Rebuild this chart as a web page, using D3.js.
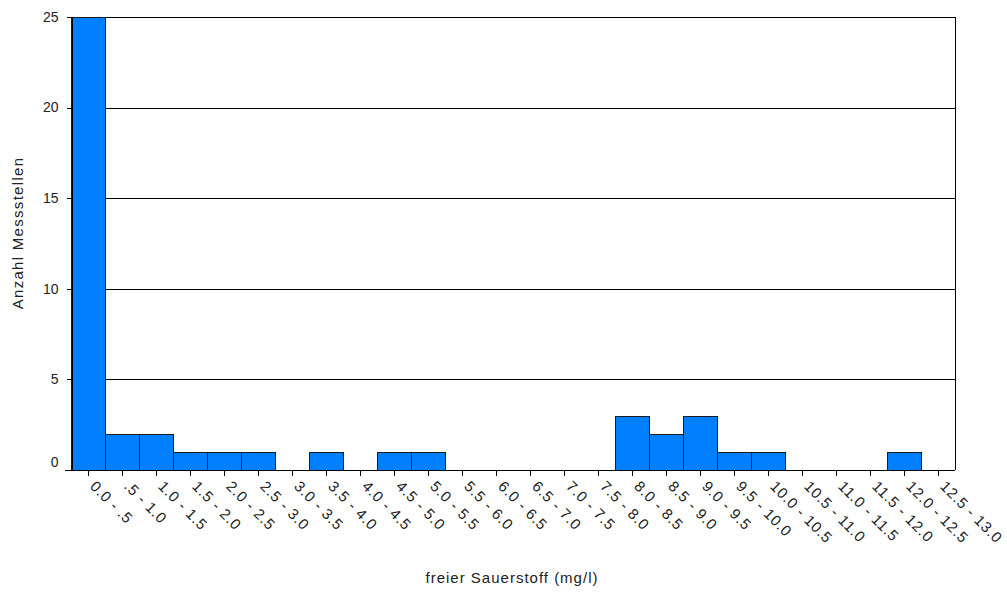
<!DOCTYPE html>
<meta charset="utf-8">
<style>
body { margin: 0; background: #fff; }
text { font-family: "Liberation Sans", Arial, sans-serif; fill: #222; }
.grid line { stroke: #000; stroke-width: 1px; shape-rendering: crispEdges; }
.axis path, .axis line { stroke: #000; shape-rendering: crispEdges; }
.bar { fill: #0080ff; stroke: #1a1a1a; stroke-width: 1px; shape-rendering: crispEdges; }
</style>
<svg class="chart" width="1007" height="595"></svg>
<script src="https://cdn.jsdelivr.net/npm/d3@7"></script>
<script>
var categories = ["0.0 - .5", ".5 - 1.0", "1.0 - 1.5", "1.5 - 2.0", "2.0 - 2.5", "2.5 - 3.0",
  "3.0 - 3.5", "3.5 - 4.0", "4.0 - 4.5", "4.5 - 5.0", "5.0 - 5.5", "5.5 - 6.0", "6.0 - 6.5",
  "6.5 - 7.0", "7.0 - 7.5", "7.5 - 8.0", "8.0 - 8.5", "8.5 - 9.0", "9.0 - 9.5", "9.5 - 10.0",
  "10.0 - 10.5", "10.5 - 11.0", "11.0 - 11.5", "11.5 - 12.0", "12.0 - 12.5", "12.5 - 13.0"];
var counts = [25, 2, 2, 1, 1, 1, 0, 1, 0, 1, 1, 0, 0, 0, 0, 0, 3, 2, 3, 1, 1, 0, 0, 0, 1, 0];
var yTicks = [0, 5, 10, 15, 20, 25];

var svg = d3.select(".chart"),
    margin = {top: 17, right: 52, bottom: 125, left: 71},
    width = 1007 - margin.left - margin.right,
    height = 595 - margin.top - margin.bottom;

var x = d3.scaleBand().domain(categories).range([0, width]).padding(0);
var y = d3.scaleLinear().domain([0, 25]).range([height, 0]);

var g = svg.append("g")
    .attr("transform", "translate(" + margin.left + "," + margin.top + ")");

// gridlines
g.append("g")
    .attr("class", "grid")
  .selectAll("line")
  .data(yTicks.filter(function(d) { return d > 0; }))
  .enter().append("line")
    .attr("x1", 0)
    .attr("x2", width)
    .attr("y1", function(d) { return Math.round(y(d)) + 0.5; })
    .attr("y2", function(d) { return Math.round(y(d)) + 0.5; });

// right border
g.append("line")
    .attr("x1", width + 0.5).attr("x2", width + 0.5)
    .attr("y1", 0).attr("y2", height)
    .style("stroke", "#000");

var barData = categories.map(function(c, i) { return {cat: c, val: counts[i]}; })
    .filter(function(d) { return d.val > 0; });

g.selectAll(".bar")
    .data(barData)
  .enter().append("rect")
    .attr("class", "bar")
    .attr("x", function(d) { return Math.round(x(d.cat)) + 0.5; })
    .attr("width", x.bandwidth())
    .attr("y", function(d) { return Math.round(y(d.val)) + 0.5; })
    .attr("height", function(d) { return Math.round(height - y(d.val)); });

// y axis
var yAxis = g.append("g")
    .attr("class", "axis")
    .attr("transform", "translate(0.5,0)")
    .call(d3.axisLeft(y).tickValues(yTicks).tickSize(5).tickSizeOuter(0).tickPadding(8));
yAxis.selectAll("text")
    .style("font-size", "14px")
    .attr("dy", function(d) { return d === 0 ? "-0.25em" : "0.3em"; });

// x axis
var xAxis = g.append("g")
    .attr("class", "axis")
    .attr("transform", "translate(0," + (height + 0.5) + ")")
    .call(d3.axisBottom(x).tickSize(5).tickSizeOuter(0));
xAxis.select(".domain").attr("d", "M-6,0H" + width);
xAxis.selectAll("text")
    .style("font-size", "15px")
    .style("letter-spacing", "0.8px")
    .style("text-anchor", "start")
    .attr("x", 0)
    .attr("y", 0)
    .attr("dy", "0.35em")
    .attr("transform", "translate(5,13) rotate(45)");

// axis titles
svg.append("text")
    .attr("transform", "translate(23,233) rotate(-90)")
    .style("text-anchor", "middle")
    .style("font-size", "15px")
    .style("letter-spacing", "1.3px")
    .text("Anzahl Messstellen");

svg.append("text")
    .attr("x", 512)
    .attr("y", 583)
    .style("text-anchor", "middle")
    .style("font-size", "15px")
    .style("letter-spacing", "1px")
    .text("freier Sauerstoff (mg/l)");
</script>
